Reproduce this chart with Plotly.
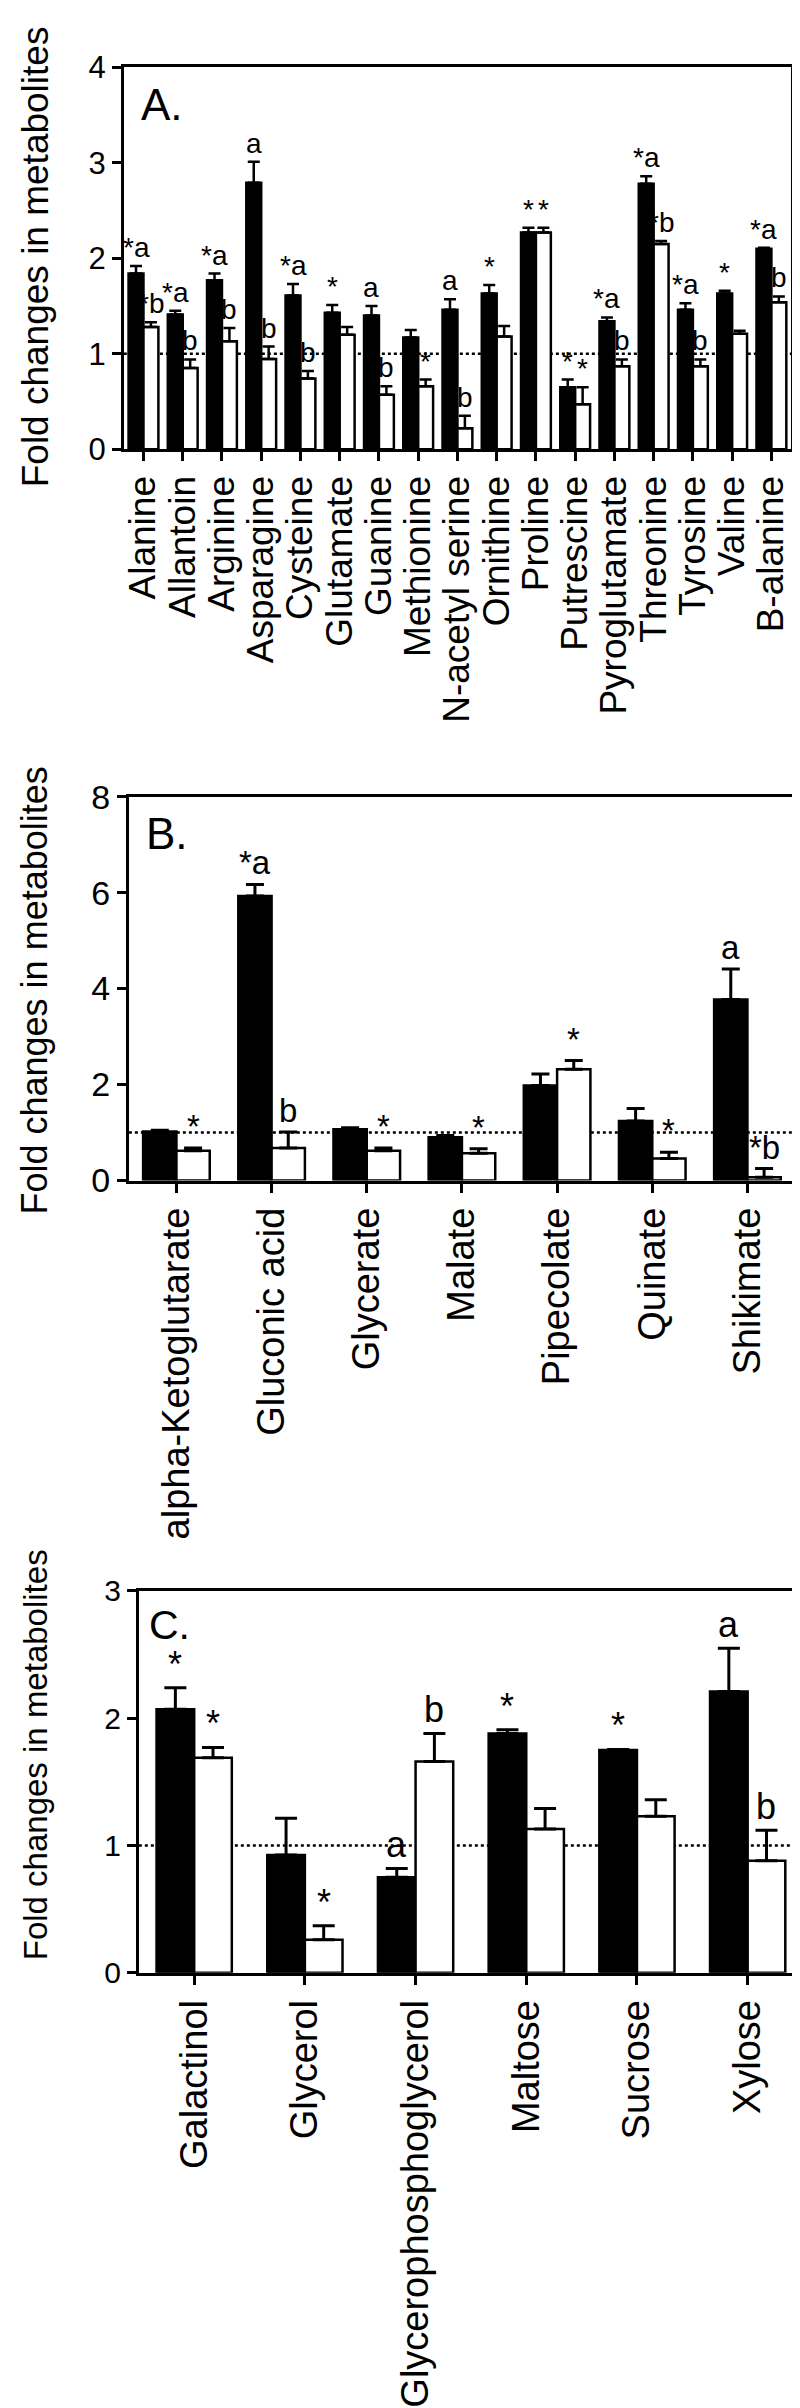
import plotly.graph_objects as go

# ---------------- data ----------------
cats_a = ["Alanine", "Allantoin", "Arginine", "Asparagine", "Cysteine", "Glutamate",
          "Guanine", "Methionine", "N-acetyl serine", "Ornithine", "Proline", "Putrescine",
          "Pyroglutamate", "Threonine", "Tyrosine", "Valine", "B-alanine"]
black_a = [1.84, 1.41, 1.77, 2.79, 1.61, 1.43, 1.40, 1.17, 1.46, 1.63, 2.27, 0.65, 1.34, 2.78, 1.46, 1.63, 2.10]
black_a_err = [0.08, 0.04, 0.07, 0.22, 0.12, 0.08, 0.10, 0.08, 0.11, 0.09, 0.05, 0.08, 0.04, 0.08, 0.07, 0.03, 0.01]
white_a = [1.28, 0.85, 1.13, 0.945, 0.74, 1.20, 0.57, 0.66, 0.22, 1.18, 2.27, 0.47, 0.87, 2.15, 0.87, 1.21, 1.54]
white_a_err = [0.05, 0.09, 0.14, 0.13, 0.08, 0.08, 0.09, 0.07, 0.13, 0.11, 0.05, 0.18, 0.07, 0.03, 0.07, 0.03, 0.06]
lab_black_a = ["*a", "*a", "*a", "a", "*a", "*", "a", "", "a", "*", "*", "*", "*a", "*a", "*a", "*", "*a"]
lab_white_a = ["*b", "b", "b", "b", "b", "", "b", "*", "b", "", "*", "*", "b", "*b", "b", "", "b"]

cats_b = ["alpha-Ketoglutarate", "Gluconic acid", "Glycerate", "Malate", "Pipecolate", "Quinate", "Shikimate"]
black_b = [1.02, 5.93, 1.07, 0.90, 1.98, 1.24, 3.77]
black_b_err = [0.03, 0.24, 0.03, 0.04, 0.24, 0.26, 0.64]
white_b = [0.62, 0.68, 0.62, 0.57, 2.32, 0.46, 0.07]
white_b_err = [0.06, 0.33, 0.06, 0.09, 0.18, 0.13, 0.18]
lab_black_b = ["", "*a", "", "", "", "", "a"]
lab_white_b = ["*", "b", "*", "*", "*", "*", "*b"]

cats_c = ["Galactinol", "Glycerol", "Glycerophosphoglycerol", "Maltose", "Sucrose", "Xylose"]
black_c = [2.07, 0.925, 0.75, 1.88, 1.75, 2.21]
black_c_err = [0.17, 0.29, 0.07, 0.03, 0.005, 0.34]
white_c = [1.69, 0.26, 1.66, 1.13, 1.23, 0.88]
white_c_err = [0.08, 0.11, 0.22, 0.16, 0.13, 0.24]
lab_black_c = ["*", "", "a", "*", "*", "a"]
lab_white_c = ["*", "*", "b", "", "", "b"]

y_title = "Fold changes in metabolites"

# ---------------- layout constants ----------------
W, H = 800, 2408
FONT = "Liberation Sans, Arial, Helvetica, sans-serif"

panels = [
    dict(key="", cats=cats_a, b=black_a, be=black_a_err, w=white_a, we=white_a_err,
         lb=lab_black_a, lw=lab_white_a, xd=(115, 783), yd=(41, 429), yr=4, dt=1,
         bw=0.38, cap=6, ann=28, letter="A.", lpos=(130, 52), lsize=44, ethick=2.5,
         xfs=37, yfs=31, tfs=37, tc=233),
    dict(key="2", cats=cats_b, b=black_b, be=black_b_err, w=white_b, we=white_b_err,
         lb=lab_black_b, lw=lab_white_b, xd=(120, 787), yd=(782, 1172), yr=8, dt=2,
         bw=0.35, cap=9, ann=33, letter="B.", lpos=(135, 793), lsize=44, ethick=3,
         xfs=38, yfs=34, tfs=36, tc=979),
    dict(key="3", cats=cats_c, b=black_c, be=black_c_err, w=white_c, we=white_c_err,
         lb=lab_black_c, lw=lab_white_c, xd=(130, 795), yd=(1589, 1977), yr=3, dt=1,
         bw=0.34, cap=11, ann=36, letter="C.", lpos=(138, 1598), lsize=41, ethick=3,
         xfs=38, yfs=30, tfs=33, tc=1755),
]

fig = go.Figure()
annotations = []
shapes = []
layout_axes = {}

for p in panels:
    k = p["key"]
    xa, ya = "x" + k, "y" + k
    n = len(p["cats"])
    bw = p["bw"]
    fig.add_trace(go.Bar(
        x=p["cats"], y=p["b"], xaxis=xa, yaxis=ya, width=bw, offset=-bw,
        marker=dict(color="black", line=dict(color="black", width=2.5)),
        error_y=dict(type="data", symmetric=False, array=p["be"], arrayminus=[0] * n,
                     color="black", thickness=p["ethick"], width=p["cap"]),
        showlegend=False, name="black"))
    fig.add_trace(go.Bar(
        x=p["cats"], y=p["w"], xaxis=xa, yaxis=ya, width=bw, offset=0,
        marker=dict(color="white", line=dict(color="black", width=2.5)),
        error_y=dict(type="data", symmetric=False, array=p["we"], arrayminus=[0] * n,
                     color="black", thickness=p["ethick"], width=p["cap"]),
        showlegend=False, name="white"))

    x0, x1 = p["xd"]
    yt, yb = p["yd"]
    layout_axes["xaxis" + k] = dict(
        domain=[x0 / W, x1 / W], anchor=ya, type="category", range=[-0.5, n - 0.5],
        tickmode="array", tickvals=p["cats"], ticktext=p["cats"],
        showline=True, mirror=True, linecolor="black", linewidth=3,
        ticks="outside", ticklen=9, tickwidth=3, tickcolor="black",
        tickangle=-90, tickfont=dict(size=p["xfs"], color="black", family=FONT),
        showgrid=False, zeroline=False)
    layout_axes["yaxis" + k] = dict(
        domain=[1 - yb / H, 1 - yt / H], anchor=xa, range=[0, p["yr"]],
        tick0=0, dtick=p["dt"],
        showline=True, mirror=True, linecolor="black", linewidth=3,
        ticks="outside", ticklen=9, tickwidth=3, tickcolor="black",
        tickfont=dict(size=p["yfs"], color="black", family=FONT),
        showgrid=False, zeroline=False)

    # dotted reference line at 1
    shapes.append(dict(type="line", xref=xa + " domain", yref=ya, x0=0, x1=1, y0=1, y1=1,
                       line=dict(color="black", width=2.5, dash="dot"), layer="below"))

    # significance letters
    for i in range(n):
        for txt, val, err, off in ((p["lb"][i], p["b"][i], p["be"][i], -bw / 2),
                                   (p["lw"][i], p["w"][i], p["we"][i], bw / 2)):
            if txt:
                annotations.append(dict(
                    x=i + off, y=val + err, xref=xa, yref=ya, text=txt, showarrow=False,
                    xanchor="center", yanchor="bottom", yshift=1,
                    font=dict(size=p["ann"], color="black", family=FONT)))

    # panel letter
    lx, ly = p["lpos"]
    annotations.append(dict(x=lx / W, y=1 - ly / H, xref="paper", yref="paper",
                            text=p["letter"], showarrow=False, xanchor="left", yanchor="top",
                            font=dict(size=p["lsize"], color="black", family=FONT)))
    # y-axis title
    annotations.append(dict(x=26 / W, y=1 - p["tc"] / H, xref="paper", yref="paper",
                            text=y_title, textangle=-90, showarrow=False,
                            xanchor="center", yanchor="middle",
                            font=dict(size=p["tfs"], color="black", family=FONT)))

fig.update_layout(
    width=W, height=H, margin=dict(l=0, r=0, t=0, b=0),
    paper_bgcolor="white", plot_bgcolor="white",
    barmode="overlay", font=dict(family=FONT, color="black"),
    annotations=annotations, shapes=shapes, **layout_axes)

fig.write_html("out.html")
